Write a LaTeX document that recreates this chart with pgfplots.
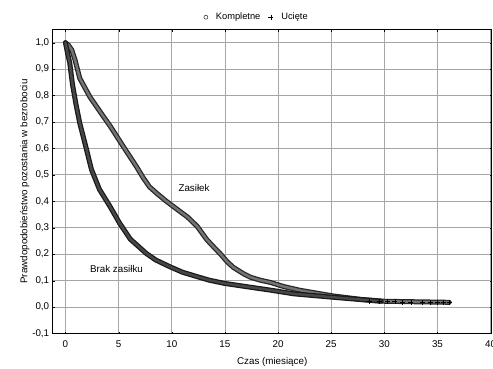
\documentclass[border=0pt]{standalone}
\usepackage{fontspec}
\setmainfont{Liberation Sans}
\usepackage{pgfplots}
\pgfplotsset{compat=1.18}
\usepackage{pgfplotstable}

\pgfplotstableread{
x y
0 1.0
0.3 0.99
0.6 0.972
0.9 0.935
1.35 0.865
2.3 0.795
3.5 0.725
4.2 0.685
5.4 0.61
6.7 0.53
7.3 0.49
7.9 0.455
8.6 0.43
9.5 0.40
10.5 0.37
11.5 0.34
12.4 0.305
13.3 0.255
14.0 0.225
14.6 0.20
15.2 0.172
15.8 0.15
16.8 0.125
17.4 0.113
18.3 0.102
19.3 0.093
20.5 0.078
22 0.064
23 0.057
25.2 0.042
27.8 0.029
30 0.022
33 0.02
36.1 0.018
}\zasilek

\pgfplotstableread{
x y
0 1.0
0.2 0.96
0.4 0.925
0.65 0.845
1.0 0.765
1.35 0.695
1.8 0.625
2.45 0.52
3.2 0.445
4.2 0.38
5.1 0.317
6.1 0.257
7.6 0.203
8.5 0.178
9.8 0.153
11 0.132
12.4 0.115
13.5 0.102
14.9 0.09
17.4 0.075
19.3 0.064
21.5 0.05
25.2 0.037
29.7 0.022
}\brak

\pgfplotstableread{
x y
28.6 0.022
29.5 0.021
30.3 0.020
31.0 0.020
31.7 0.019
32.5 0.019
33.6 0.018
34.3 0.018
35.0 0.018
35.6 0.018
36.1 0.018
}\uciete

\begin{document}
\begin{tikzpicture}
\begin{axis}[
  scale only axis,
  width=439pt, height=304pt,
  xmin=-1.2, xmax=40.1,
  ymin=-0.1, ymax=1.05,
  xtick={0,5,...,40},
  ytick={-0.1,0,0.1,0.2,0.3,0.4,0.5,0.6,0.7,0.8,0.9,1.0},
  grid=major,
  grid style={color=black!35, line width=0.8pt},
  axis line style={black, line width=0.9pt},
  tick align=inside,
  major tick length=2pt,
  tick style={black},
  /pgf/number format/assume math mode=true,
  /pgf/number format/use comma,
  xticklabel style={/pgf/number format/fixed, /pgf/number format/precision=0},
  yticklabel style={/pgf/number format/fixed, /pgf/number format/fixed zerofill, /pgf/number format/precision=1},
  ticklabel style={font=\fontsize{9.8}{11}\selectfont},
  xticklabel style={yshift=-4pt},
  xlabel={Czas (miesiące)},
  ylabel={Prawdopodobieństwo pozostania w bezrobociu},
  label style={font=\fontsize{9.8}{11}\selectfont},
  xlabel style={yshift=-3pt},
  ylabel style={yshift=-4pt},
  legend style={at={(0.465,1.0)}, anchor=south, yshift=4pt, draw=none, fill=none,
    font=\fontsize{9.3}{10}\selectfont, column sep=6pt},
  legend columns=2,
  clip=false,
]
\addlegendimage{only marks, mark=o, mark size=2pt, black}
\addlegendentry{Kompletne}
\addlegendimage{only marks, mark=+, mark size=2.5pt, black}
\addlegendentry{Ucięte}

\addplot[color=black!85, line width=5pt, line join=round, line cap=round, forget plot] table[x=x,y=y] {\zasilek};
\addplot[color=black!55, line width=2.5pt, line join=round, line cap=round, forget plot] table[x=x,y=y] {\zasilek};
\addplot[color=black!90, line width=5pt, line join=round, line cap=round, forget plot] table[x=x,y=y] {\brak};
\addplot[color=black!72, line width=2.5pt, line join=round, line cap=round, forget plot] table[x=x,y=y] {\brak};
\addplot[only marks, mark=+, mark size=2.5pt, black, line width=0.8pt, forget plot] table[x=x,y=y] {\uciete};

\node[font=\fontsize{9.8}{11}\selectfont] at (axis cs:12.1,0.45) {Zasiłek};
\node[font=\fontsize{9.8}{11}\selectfont] at (axis cs:4.8,0.145) {Brak zasiłku};
\end{axis}
\pgfresetboundingbox
\path (-52.7pt,-34.5pt) rectangle (440.3pt,333.5pt);
\end{tikzpicture}
\end{document}
